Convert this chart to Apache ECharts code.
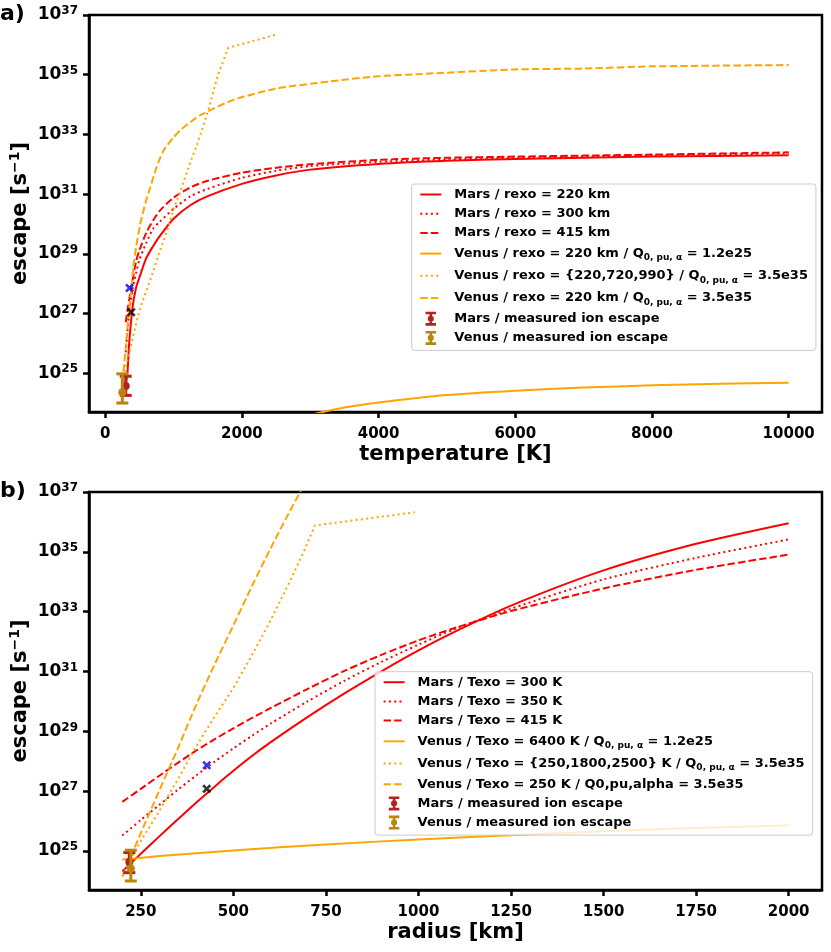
<!DOCTYPE html>
<html><head><meta charset="utf-8">
<script src="https://cdn.jsdelivr.net/npm/echarts@6/dist/echarts.min.js"></script>
<style>html,body{margin:0;padding:0;background:#fff}#c{width:831px;height:952px}</style>
</head><body><div id="c"></div>
<script>
// ---------- Panel a: escape vs exobase temperature [K] ----------
const tempMars = [300, 325, 350, 400, 450, 500, 600, 700, 800, 1000, 1250, 1500, 2000, 2500, 3000, 4000, 5000, 6000, 8000, 10000];
const marsRexo220 = [4.0e24, 1.0e25, 1.0e26, 1.6e27, 7.1e27, 1.6e28, 7.1e28, 1.8e29, 4.0e29, 1.5e30, 4.3e30, 8.5e30, 2.2e31, 4.2e31, 6.6e31, 1.02e32, 1.3e32, 1.5e32, 1.8e32, 2.0e32];
const marsRexo300 = [5.0e25, 2.8e26, 1.1e27, 6.6e27, 2.2e28, 6.3e28, 2.3e29, 6.8e29, 1.2e30, 3.2e30, 8.5e30, 1.5e31, 3.5e31, 6.0e31, 8.7e31, 1.2e32, 1.45e32, 1.65e32, 2.0e32, 2.3e32];
const marsRexo415 = [5.0e26, 1.26e27, 2.8e27, 1.3e28, 5.4e28, 1.3e29, 5.0e29, 1.3e30, 2.8e30, 7.6e30, 1.7e31, 2.8e31, 5.2e31, 7.6e31, 1.0e32, 1.4e32, 1.65e32, 1.8e32, 2.1e32, 2.5e32];

const tempVenusLow = [1500, 2000, 2500, 3000, 3500, 4000, 5000, 6000, 7000, 8000, 9000, 10000];
const venusRexo220Q12e25 = [4.0e22, 8.9e22, 2.0e23, 4.0e23, 7.1e23, 1.05e24, 1.86e24, 2.6e24, 3.3e24, 3.9e24, 4.4e24, 4.8e24];

const tempVenusSet = [250, 300, 350, 425, 500, 600, 700, 800, 900, 1000, 1100, 1250, 1350, 1500, 1650, 1800, 2500];
const venusRexoSet = [5.0e24, 1.6e25, 4.5e25, 2.5e26, 1.26e27, 5.6e27, 2.5e28, 1.26e29, 5.6e29, 3.2e30, 1.26e31, 1.26e32, 5.0e32, 5.6e33, 1.0e35, 7.9e35, 2.2e36];

const tempVenusHigh = [250, 275, 300, 340, 375, 414, 450, 512, 600, 660, 750, 850, 1000, 1100, 1250, 1400, 1600, 1900, 2500, 3300, 4000, 4600, 6000, 7000, 8000, 10000];
const venusRexo220Q35e35 = [5.0e24, 1.8e25, 7.1e25, 7.6e26, 5.0e27, 4.0e28, 1.6e29, 1.0e30, 6.3e30, 1.7e31, 7.9e31, 2.8e32, 7.9e32, 1.4e33, 2.6e33, 4.5e33, 7.6e33, 1.5e34, 3.4e34, 6.0e34, 8.9e34, 1.05e35, 1.5e35, 1.6e35, 1.9e35, 2.1e35];

// measured ion escape: [x, value, low, high]
const marsMeasuredA = [300, 3.7e24, 1.8e24, 7.9e24];
const venusMeasuredA = [250, 2.3e24, 1.0e24, 9.5e24];
const blueMarkA = [356, 7.2e27];
const blackMarkA = [380, 1.1e27];

// ---------- Panel b: escape vs exobase radius [km] ----------
const radiusMars = [200, 250, 300, 350, 400, 450, 500, 550, 600, 700, 800, 900, 1000, 1100, 1250, 1500, 1750, 2000];
const marsTexo300 = [2.1e24, 8.1e24, 3.1e25, 1.15e26, 4.2e26, 1.45e27, 4.8e27, 1.5e28, 4.3e28, 3.0e29, 1.86e30, 1.02e31, 5.1e31, 2.2e32, 1.6e33, 2.4e34, 1.86e35, 9.1e35];
const marsTexo350 = [3.3e25, 1.1e26, 3.5e26, 1.12e27, 3.4e27, 9.8e27, 2.7e28, 7.1e28, 1.8e29, 1.0e30, 4.9e30, 2.1e31, 7.9e31, 2.7e32, 1.26e33, 1.2e34, 6.3e34, 2.6e35];
const marsTexo415 = [4.4e26, 1.2e27, 3.3e27, 8.9e27, 2.3e28, 5.5e28, 1.26e29, 2.8e29, 6.0e29, 2.6e30, 1.05e31, 3.6e31, 1.1e32, 2.9e32, 1.05e33, 6.0e33, 2.5e34, 8.1e34];

const radiusVenusLow = [200, 300, 500, 750, 1000, 1250, 1500, 1750, 2000];
const venusTexo6400 = [5.2e24, 6.8e24, 1.05e25, 1.66e25, 2.45e25, 3.4e25, 4.6e25, 5.9e25, 7.2e25];

const radiusVenusSet = [220, 260, 300, 350, 400, 450, 500, 550, 600, 650, 690, 720, 990];
const venusTexoSet = [5.0e24, 3.5e25, 2.2e26, 2.5e27, 3.2e28, 3.2e29, 2.8e30, 3.5e31, 5.0e32, 8.9e33, 1.0e35, 7.6e35, 2.1e36];

const radiusVenusHigh = [200, 220, 250, 300, 350, 400, 450, 500, 550, 600, 650, 700, 720];
const venusTexo250 = [1.4e24, 5.4e24, 4.0e25, 1.07e27, 2.7e28, 7.9e29, 1.8e31, 3.5e32, 7.1e33, 1.26e35, 2.0e36, 2.8e37, 7.9e37];

const marsMeasuredB = [219, 4.3e24, 1.9e24, 8.9e24];
const venusMeasuredB = [223, 2.6e24, 1.0e24, 1.07e25];
const blueMarkB = [428, 7.4e27];
const blackMarkB = [428, 1.2e27];

// ---------- tick labels ----------
const yTicks = [1e25, 1e27, 1e29, 1e31, 1e33, 1e35, 1e37];
const xTicksA = [0, 2000, 4000, 6000, 8000, 10000];
const xTicksB = [250, 500, 750, 1000, 1250, 1500, 1750, 2000];

// ---------- names ----------
const namesA = [
  'Mars / rexo = 220 km', 'Mars / rexo = 300 km', 'Mars / rexo = 415 km',
  'Venus / rexo = 220 km / Q0,pu,α = 1.2e25',
  'Venus / rexo = {220,720,990} / Q0,pu,α = 3.5e35',
  'Venus / rexo = 220 km / Q0,pu,α = 3.5e35'
];
const namesB = [
  'Mars / Texo = 300 K', 'Mars / Texo = 350 K', 'Mars / Texo = 415 K',
  'Venus / Texo = 6400 K / Q0,pu,α = 1.2e25',
  'Venus / Texo = {250,1800,2500} K / Q0,pu,α = 3.5e35',
  'Venus / Texo = 250 K / Q0,pu,alpha = 3.5e35'
];
const marsMeasName = 'Mars / measured ion escape';
const venusMeasName = 'Venus / measured ion escape';

const RED = '#ff0000', ORANGE = '#ffa500', FIREBRICK = '#b22222', GOLD = '#b8860b';
const DASH = [7.4, 3.2], DOT = [2, 3.3];
const FONT = 'DejaVu Sans';

function pairs(xs, ys) { return xs.map((x, i) => [x, ys[i]]); }
function lineS(name, idx, xs, ys, color, type, smooth) {
  return { name, type: 'line', xAxisIndex: idx, yAxisIndex: idx, data: pairs(xs, ys),
    symbol: 'none', smooth: smooth ? 0.25 : false,
    lineStyle: { color, width: 2, type }, itemStyle: { color }, z: 2, animation: false };
}
function errRender(params, api) {
  const x = api.value(0);
  const pc = api.coord([x, api.value(1)]);
  const pl = api.coord([x, api.value(2)]);
  const ph = api.coord([x, api.value(3)]);
  const c = api.visual('color');
  const cw = 6, st = { stroke: c, lineWidth: 3 };
  return { type: 'group', children: [
    { type: 'line', shape: { x1: pl[0], y1: pl[1], x2: ph[0], y2: ph[1] }, style: st },
    { type: 'line', shape: { x1: ph[0] - cw, y1: ph[1], x2: ph[0] + cw, y2: ph[1] }, style: st },
    { type: 'line', shape: { x1: pl[0] - cw, y1: pl[1], x2: pl[0] + cw, y2: pl[1] }, style: st },
    { type: 'circle', shape: { cx: pc[0], cy: pc[1], r: 4 }, style: { fill: c } }
  ] };
}
function errS(name, idx, pt, color) {
  return { name, type: 'custom', xAxisIndex: idx, yAxisIndex: idx, data: [pt],
    itemStyle: { color }, renderItem: errRender, encode: { x: 0, y: [1, 2, 3] }, z: 3, animation: false };
}
const XMARK = 'path://M0,2L2,0L5,3L8,0L10,2L7,5L10,8L8,10L5,7L2,10L0,8L3,5Z';
function markS(idx, pt, color) {
  return { type: 'scatter', xAxisIndex: idx, yAxisIndex: idx, data: [pt], symbol: XMARK,
    symbolSize: 9, itemStyle: { color }, z: 4, animation: false };
}
const ERRICON = 'path://M0,0H12V3H7.5V13H12V16H0V13H4.5V3H0Z M6,4.5A3.5,3.5,0,1,1,5.99,4.5Z';

function yAxis(idx) {
  return {
    type: 'log', logBase: 10, gridIndex: idx, min: 5e23, max: 1e37,
    name: 'escape [s{sup|−1}]', nameLocation: 'middle', nameGap: 55, nameRotate: 90, nameMoveOverlap: false,
    nameTextStyle: { fontFamily: FONT, fontSize: 21, fontWeight: 'bold', color: '#000', lineHeight: 26,
      rich: { sup: { fontFamily: FONT, fontSize: 14, fontWeight: 'bold', color: '#000', lineHeight: 14, verticalAlign: 'top' } } },
    axisLine: { show: true, onZero: false, lineStyle: { color: '#000', width: 2.5 } },
    axisTick: { show: true, inside: false, length: 6, customValues: yTicks, lineStyle: { color: '#000', width: 2.5 } },
    minorTick: { show: false },
    splitLine: { show: false },
    axisLabel: {
      customValues: yTicks, margin: 11,
      formatter: v => '{b|10}{s|' + Math.round(Math.log10(v)) + '}',
      rich: {
        b: { fontFamily: FONT, fontSize: 17, fontWeight: 'bold', color: '#000', lineHeight: 20 },
        s: { fontFamily: FONT, fontSize: 12, fontWeight: 'bold', color: '#000', lineHeight: 12, verticalAlign: 'top' }
      }
    }
  };
}
function xAxis(idx, min, max, ticks, name) {
  return {
    type: 'value', gridIndex: idx, min, max,
    name, nameLocation: 'middle', nameGap: 32,
    nameTextStyle: { fontFamily: FONT, fontSize: 21, fontWeight: 'bold', color: '#000' },
    axisLine: { show: true, onZero: false, lineStyle: { color: '#000', width: 2.5 } },
    axisTick: { show: true, inside: false, length: 6, customValues: ticks, lineStyle: { color: '#000', width: 2.5 } },
    splitLine: { show: false },
    axisLabel: { customValues: ticks, margin: 15, formatter: v => String(v),
      fontFamily: FONT, fontSize: 15, fontWeight: 'bold', color: '#000' }
  };
}
function legendFmt(name) {
  const hasSub = name.indexOf('Q0,pu,α') >= 0;
  return (hasSub ? '{G| }' : '{g| }') + name.replace('Q0,pu,α', 'Q{s|0, pu, α}');
}
function legend(left, top, names) {
  return {
    orient: 'vertical', left, top, padding: [3, 8, 5, 7.6],
    itemWidth: 21, itemHeight: 14, itemGap: 4.2, selectedMode: false,
    backgroundColor: 'rgba(255,255,255,0.8)', borderColor: '#cccccc', borderWidth: 1, borderRadius: 3,
    itemStyle: { opacity: 0 },
    textStyle: { fontFamily: FONT, fontSize: 13, fontWeight: 'bold', color: '#000', lineHeight: 15,
      rich: {
        g: { width: 8, lineHeight: 15, fontSize: 13 },
        G: { width: 8, lineHeight: 18, fontSize: 13 },
        s: { fontFamily: FONT, fontSize: 9, fontWeight: 'bold', color: '#000', lineHeight: 11, verticalAlign: 'bottom' }
      } },
    formatter: legendFmt,
    data: names.concat([
      { name: marsMeasName, icon: ERRICON, itemStyle: { opacity: 1 } },
      { name: venusMeasName, icon: ERRICON, itemStyle: { opacity: 1 } }
    ])
  };
}

const series = [
  lineS(namesA[0], 0, tempMars, marsRexo220, RED, 'solid', true),
  lineS(namesA[1], 0, tempMars, marsRexo300, RED, DOT, true),
  lineS(namesA[2], 0, tempMars, marsRexo415, RED, DASH, true),
  lineS(namesA[3], 0, tempVenusLow, venusRexo220Q12e25, ORANGE, 'solid', true),
  lineS(namesA[4], 0, tempVenusSet, venusRexoSet, ORANGE, DOT, false),
  lineS(namesA[5], 0, tempVenusHigh, venusRexo220Q35e35, ORANGE, DASH, true),
  markS(0, blueMarkA, '#0000ff'),
  markS(0, blackMarkA, '#000000'),
  errS(marsMeasName, 0, marsMeasuredA, FIREBRICK),
  errS(venusMeasName, 0, venusMeasuredA, GOLD),

  lineS(namesB[0], 1, radiusMars, marsTexo300, RED, 'solid', true),
  lineS(namesB[1], 1, radiusMars, marsTexo350, RED, DOT, true),
  lineS(namesB[2], 1, radiusMars, marsTexo415, RED, DASH, true),
  lineS(namesB[3], 1, radiusVenusLow, venusTexo6400, ORANGE, 'solid', true),
  lineS(namesB[4], 1, radiusVenusSet, venusTexoSet, ORANGE, DOT, false),
  lineS(namesB[5], 1, radiusVenusHigh, venusTexo250, ORANGE, DASH, true),
  markS(1, blueMarkB, '#0000ff'),
  markS(1, blackMarkB, '#000000'),
  errS(marsMeasName, 1, marsMeasuredB, FIREBRICK),
  errS(venusMeasName, 1, venusMeasuredB, GOLD)
];

const option = {
  animation: false,
  backgroundColor: '#ffffff',
  textStyle: { fontFamily: FONT },
  title: [
    { text: 'a)', left: 0, top: 3, padding: 0, textStyle: { fontFamily: FONT, fontSize: 22, fontWeight: 'bold', color: '#000' } },
    { text: 'b)', left: 0, top: 480, padding: 0, textStyle: { fontFamily: FONT, fontSize: 22, fontWeight: 'bold', color: '#000' } }
  ],
  grid: [
    { left: 89, top: 15, width: 733, height: 397, show: true, borderColor: '#000', borderWidth: 2.5,
      backgroundColor: 'transparent', containLabel: false, outerBoundsMode: 'none' },
    { left: 89, top: 492, width: 733, height: 398, show: true, borderColor: '#000', borderWidth: 2.5,
      backgroundColor: 'transparent', containLabel: false, outerBoundsMode: 'none' }
  ],
  xAxis: [
    xAxis(0, -237.5, 10487.5, xTicksA, 'temperature [K]'),
    xAxis(1, 110, 2090, xTicksB, 'radius [km]')
  ],
  yAxis: [yAxis(0), yAxis(1)],
  legend: [legend(411.7, 184, namesA), legend(375, 671.7, namesB)],
  series
};
const chart = echarts.init(document.getElementById('c'), null, { renderer: 'canvas' });
chart.setOption(option);
</script>
</body></html>
